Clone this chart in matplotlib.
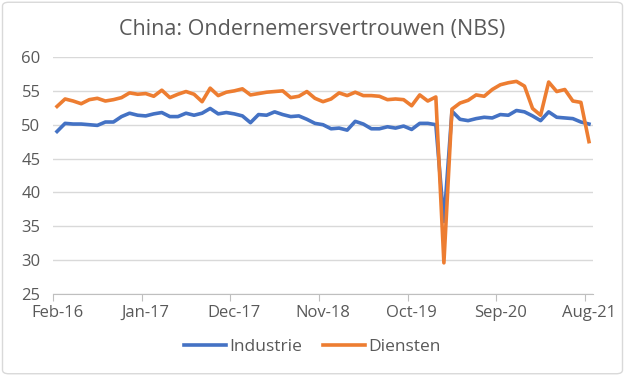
import matplotlib
matplotlib.use("Agg")
import matplotlib.pyplot as plt
from matplotlib.patches import FancyBboxPatch

industrie = [49.0, 50.2, 50.1, 50.1, 50.0, 49.9, 50.4, 50.4, 51.2, 51.7, 51.4,
             51.3, 51.6, 51.8, 51.2, 51.2, 51.7, 51.4, 51.7, 52.4, 51.6, 51.8,
             51.6, 51.3, 50.3, 51.5, 51.4, 51.9, 51.5, 51.2, 51.3, 50.8, 50.2,
             50.0, 49.4, 49.5, 49.2, 50.5, 50.1, 49.4, 49.4, 49.7, 49.5, 49.8,
             49.3, 50.2, 50.2, 50.0, 35.7, 52.0, 50.8, 50.6, 50.9, 51.1, 51.0,
             51.5, 51.4, 52.1, 51.9, 51.3, 50.6, 51.9, 51.1, 51.0, 50.9, 50.4, 50.1]
diensten = [52.7, 53.8, 53.5, 53.1, 53.7, 53.9, 53.5, 53.7, 54.0, 54.7, 54.5,
            54.6, 54.2, 55.1, 54.0, 54.5, 54.9, 54.5, 53.4, 55.4, 54.3, 54.8,
            55.0, 55.3, 54.4, 54.6, 54.8, 54.9, 55.0, 54.0, 54.2, 54.9, 53.9,
            53.4, 53.8, 54.7, 54.3, 54.8, 54.3, 54.3, 54.2, 53.7, 53.8, 53.7,
            52.8, 54.4, 53.5, 54.1, 29.6, 52.3, 53.2, 53.6, 54.4, 54.2, 55.2,
            55.9, 56.2, 56.4, 55.7, 52.4, 51.4, 56.3, 54.9, 55.2, 53.5, 53.3, 47.5]
tick_labels = ["Feb-16", "Jan-17", "Dec-17", "Nov-18", "Oct-19", "Sep-20", "Aug-21"]
y_ticks = [25, 30, 35, 40, 45, 50, 55, 60]

font = "Open Sans"
gray = "#595959"

fig = plt.figure(figsize=(6.25, 3.76), dpi=100)
fig.patch.set_facecolor("white")
border = FancyBboxPatch((0.004, 0.006), 0.992, 0.988, boxstyle="round,pad=0,rounding_size=0.01",
                        transform=fig.transFigure, facecolor="none", edgecolor="#d9d9d9", lw=1,
                        zorder=-1)
fig.patches.append(border)

ax = fig.add_axes([53/625, 1-294/376, 540/625, 237/376])
ax.set_facecolor("none")
x = list(range(len(industrie)))
l1, = ax.plot(x, industrie, color="#4472C4", lw=2.6, solid_joinstyle="round", label="Industrie")
l2, = ax.plot(x, diensten, color="#ED7D31", lw=2.6, solid_joinstyle="round", label="Diensten")

ax.set_xlim(-0.5, 66.5)
ax.set_ylim(25, 60)
ax.set_yticks(y_ticks)
ax.grid(axis="y", color="#d9d9d9", lw=1)
ax.set_axisbelow(True)
for s in ["top", "right", "left"]:
    ax.spines[s].set_visible(False)
ax.spines["bottom"].set_color("#bfbfbf")
ax.tick_params(axis="y", length=0, labelsize=12, labelcolor=gray, pad=9)
for lab in ax.get_yticklabels():
    lab.set_fontfamily(font)

pos = [i * 11 for i in range(len(tick_labels))]
ax.set_xticks([p - 0.5 for p in pos])
ax.set_xticklabels([])
ax.tick_params(axis="x", length=5, color="#bfbfbf")
ax.set_xticks(pos, minor=True)
ax.set_xticklabels(tick_labels, minor=True, fontsize=12, color=gray, fontfamily=font)
ax.tick_params(axis="x", which="minor", length=0, pad=8)

fig.text(0.5, 1-30/376, "China: Ondernemersvertrouwen (NBS)", ha="center", va="center",
         fontsize=15.5, color=gray, fontfamily=font)
fig.legend(handles=[l1, l2], loc="center", bbox_to_anchor=(0.5, 1-347/376), ncol=2,
           frameon=False, prop={"family": font, "size": 12.5}, labelcolor=gray,
           handlelength=2.4, columnspacing=1.2, handletextpad=0.2)

fig.savefig("out.png", dpi=100)
